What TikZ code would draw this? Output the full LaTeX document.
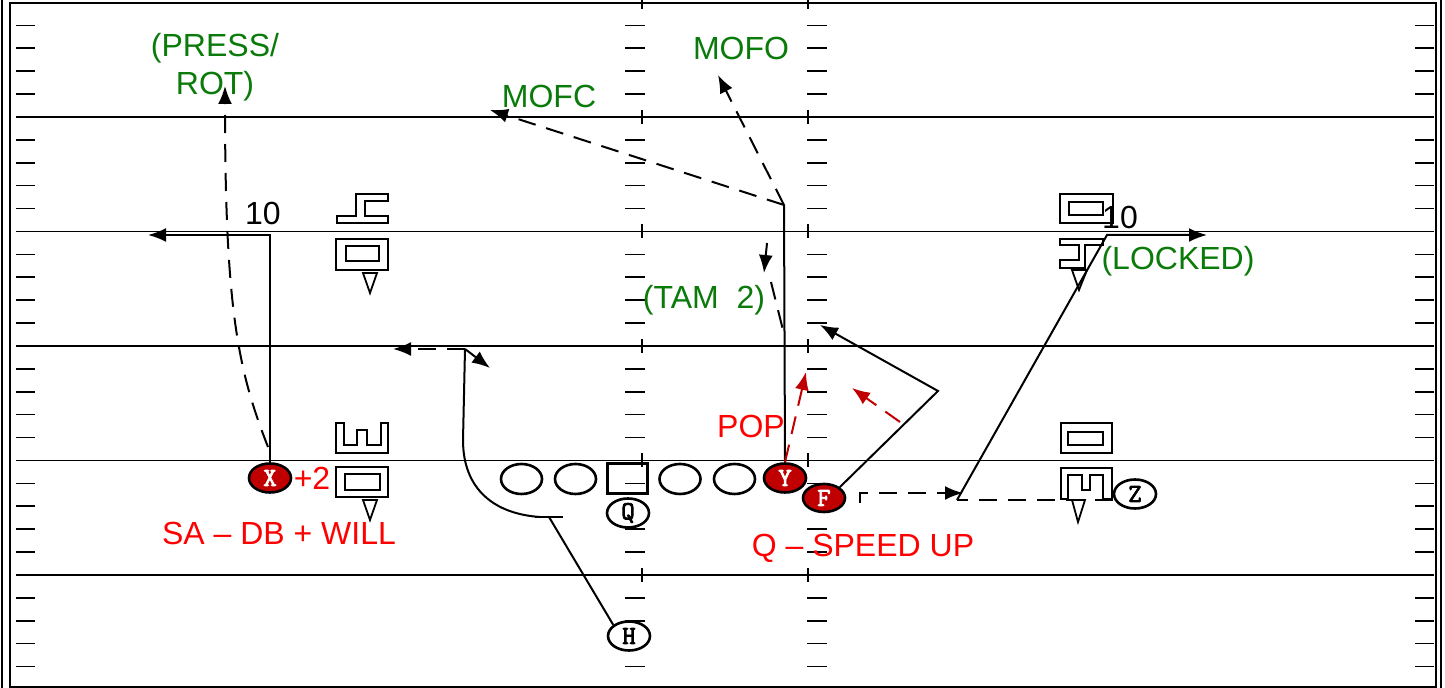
\documentclass[tikz,border=0pt]{standalone}
\usepackage{fontspec}
\setmainfont{Liberation Sans}
\newfontfamily\playerfont{Latin Modern Mono}[AutoFakeBold=3]
\usetikzlibrary{arrows.meta, positioning, shapes.geometric, calc}
\definecolor{PlayRed}{HTML}{C00000}
\definecolor{NoteRed}{HTML}{FF0000}
\definecolor{NoteGreen}{HTML}{0A7A0A}

\begin{document}
\begin{tikzpicture}[x=0.5pt, y=-0.5pt,
  yardline/.style={line width=0.7pt},
  hashmark/.style={line width=0.8pt},
  route/.style={line width=1pt},
  arrowend/.style={-{Latex[length=9pt,width=7pt]}},
  dashroute/.style={route, dash pattern=on 9pt off 5.5pt},
  icon/.style={line width=0.9pt},
  player/.style={ellipse, draw, line width=1.3pt, minimum width=21pt, minimum height=14.5pt,
    inner sep=0pt, fill=white, font=\playerfont\bfseries\fontsize{13}{13}\selectfont},
  hotplayer/.style={player, fill=PlayRed, text=white},
  lineman/.style={ellipse, draw, line width=1.3pt, minimum width=20.5pt, minimum height=15pt, inner sep=0pt},
  snapper/.style={rectangle, draw, line width=1.3pt, minimum width=20pt, minimum height=15pt, inner sep=0pt},
  greennote/.style={text=NoteGreen, font=\fontsize{16}{19}\selectfont, inner sep=0pt},
  rednote/.style={text=NoteRed, font=\fontsize{16}{19}\selectfont, inner sep=0pt},
  blacknote/.style={font=\fontsize{16}{19}\selectfont, inner sep=0pt}]
\useasboundingbox (0,0) rectangle (1445,688);
% Frame
\draw[line width=1.2pt] (2,0) -- (2,688);
\draw[line width=1.2pt] (1441,0) -- (1441,688);
\draw[line width=0.8pt] (10,3) rectangle (1436,687);
% Yard lines and hash marks
\foreach \k in {0,...,4} {
  \pgfmathsetmacro\yl{117+114.5*\k}
  \draw[yardline] (16,\yl) -- (1434,\yl);
}
\foreach \k in {0,...,5} {
  \draw[hashmark] (642,2.5+114.5*\k-7) -- (642,2.5+114.5*\k+7);
  \draw[hashmark] (808,2.5+114.5*\k-7) -- (808,2.5+114.5*\k+7);
  \foreach \j in {1,...,4} {
    \pgfmathsetmacro\yh{2.5+114.5*\k+22.9*\j}
    \draw[hashmark] (16,\yh) -- (35,\yh);
    \draw[hashmark] (625,\yh) -- (645,\yh);
    \draw[hashmark] (807,\yh) -- (827,\yh);
    \draw[hashmark] (1415,\yh) -- (1434,\yh);
  }
}
% Defensive icons
\draw[icon] (337,223) -- (388,223) -- (388,216) -- (365,216) -- (365,201) -- (388,201)
  -- (388,194) -- (356,194) -- (356,216) -- (337,216) -- cycle;
\draw[icon] (336,239) rectangle (388,270);
\draw[icon] (346,246) rectangle (379,261);
\draw[icon] (363,273) -- (377,273) -- (370,293) -- cycle;
\draw[icon] (336,423) -- (336,453) -- (388,453) -- (388,423) -- (381,423) -- (381,445)
  -- (367,445) -- (367,430) -- (357,430) -- (357,445) -- (344,445) -- (344,423) -- cycle;
\draw[icon] (336,467) rectangle (388,497);
\draw[icon] (345,474) rectangle (380,490);
\draw[icon] (363,500) -- (377,500) -- (370,520) -- cycle;
\draw[icon] (1060,194) rectangle (1113,223);
\draw[icon] (1069,202) rectangle (1103,215);
\draw[icon] (1060,239) -- (1103,239) -- (1103,245) -- (1085,245) -- (1085,268) -- (1060,268)
  -- (1060,260) -- (1079,260) -- (1079,245) -- (1060,245) -- cycle;
\draw[icon] (1072,270) -- (1087,270) -- (1079,290) -- cycle;
\draw[icon] (1061,423) rectangle (1112,453);
\draw[icon] (1068,432) rectangle (1103,445);
\draw[icon] (1061,499) -- (1061,468) -- (1112,468) -- (1112,499) -- (1103,499) -- (1103,475)
  -- (1090,475) -- (1090,490) -- (1082,490) -- (1082,475) -- (1068,475) -- (1068,499) -- cycle;
\draw[icon] (1072,500) -- (1085,500) -- (1078,522) -- cycle;
% Route points
\coordinate (xbreak) at (270,235);
\coordinate (xout) at (148,235);
\coordinate (xstart) at (268,447);
\coordinate (xdeep) at (225,86);
\coordinate (hblock) at (549,517);
\coordinate (hbend) at (463,440);
\coordinate (htop) at (465,349);
\coordinate (hleft) at (393,349);
\coordinate (hright) at (490,368);
\coordinate (ybreak) at (784,205);
\coordinate (mofc) at (490,110);
\coordinate (mofo) at (718,75);
\coordinate (tamtop) at (767,243);
\coordinate (tammid) at (764,273);
\coordinate (tamgo) at (771,282);
\coordinate (tamend) at (783,330);
\coordinate (pop) at (806,372);
\coordinate (fbreak) at (938,391);
\coordinate (fback) at (820,325);
\coordinate (fhot) at (900,422);
\coordinate (fhotend) at (852,388);
\coordinate (mstart) at (860,503);
\coordinate (mcorner) at (860,493);
\coordinate (mend) at (963,493);
\coordinate (zbreak) at (957,500);
\coordinate (zup) at (1107,235);
\coordinate (zout) at (1207,235);
% Offense
\node[lineman] (lt) at (521.5,479) {};
\node[lineman] (lg) at (575.5,479) {};
\node[snapper] (c) at (627.5,478.5) {};
\node[lineman] (rg) at (680,479) {};
\node[lineman] (rt) at (734.5,479) {};
\node[hotplayer] (X) at (270,478) {X};
\node[hotplayer] (Y) at (785,478) {Y};
\node[hotplayer, minimum height=14pt] (F) at (824,498) {F};
\node[player] (Q) at (628,513) {Q};
\node[player] (Z) at (1135,494) {Z};
\node[player] (H) at (629,636) {H};
% Routes
\draw[route, arrowend] (X.north) -- (xbreak) -- (xout);
\draw[dashroute, arrowend] (xstart) .. controls (238,370) and (225,310) .. (xdeep);
\draw[route] (H.north west) -- (hblock);
\draw[route] (535,517) -- (563,517);
\draw[route] (540,517) .. controls (495,514) and (463,490) .. (hbend) -- (htop);
\draw[dashroute, arrowend] (htop) -- (hleft);
\draw[route, arrowend] (htop) -- (hright);
\draw[route] (Y.north) -- (ybreak);
\draw[dashroute, arrowend] (ybreak) -- (mofc);
\draw[dashroute, arrowend] (ybreak) -- (mofo);
\draw[dashroute, arrowend] (tamtop) -- (tammid);
\draw[dashroute] (tamgo) -- (tamend);
\draw[dashroute, PlayRed, arrowend] (Y.north) -- (pop);
\draw[route, arrowend] (F.north east) -- (fbreak) -- (fback);
\draw[dashroute, PlayRed, arrowend] (fhot) -- (fhotend);
\draw[dashroute, arrowend] (mstart) -- (mcorner) -- (mend);
\draw[dashroute] (zbreak -| Z.west) -- (zbreak);
\draw[route, arrowend] (zbreak) -- (zup) -- (zout);
% Labels
\node[greennote, align=center] (press) at (215,67) {(PRESS/\\ROT)};
\node[greennote] (mofolbl) at (741,48) {MOFO};
\node[greennote] (mofclbl) at (549,96) {MOFC};
\node[greennote] (tamlbl) at (704,300) {(TAM\ \ 2)};
\node[greennote] (lockedlbl) at (1178,261) {(LOCKED)};
\node[blacknote] (xdepth) at (263,213) {10};
\node[blacknote] (zdepth) at (1120,217) {10};
\node[rednote] (poplbl) at (751,426) {POP};
\node[rednote] (plustwo) at (312,478) {+2};
\node[rednote] (xnote) at (279,533) {SA -- DB + WILL};
\node[rednote] (fnote) at (863,548) {Q -- SPEED UP};
\end{tikzpicture}
\end{document}
